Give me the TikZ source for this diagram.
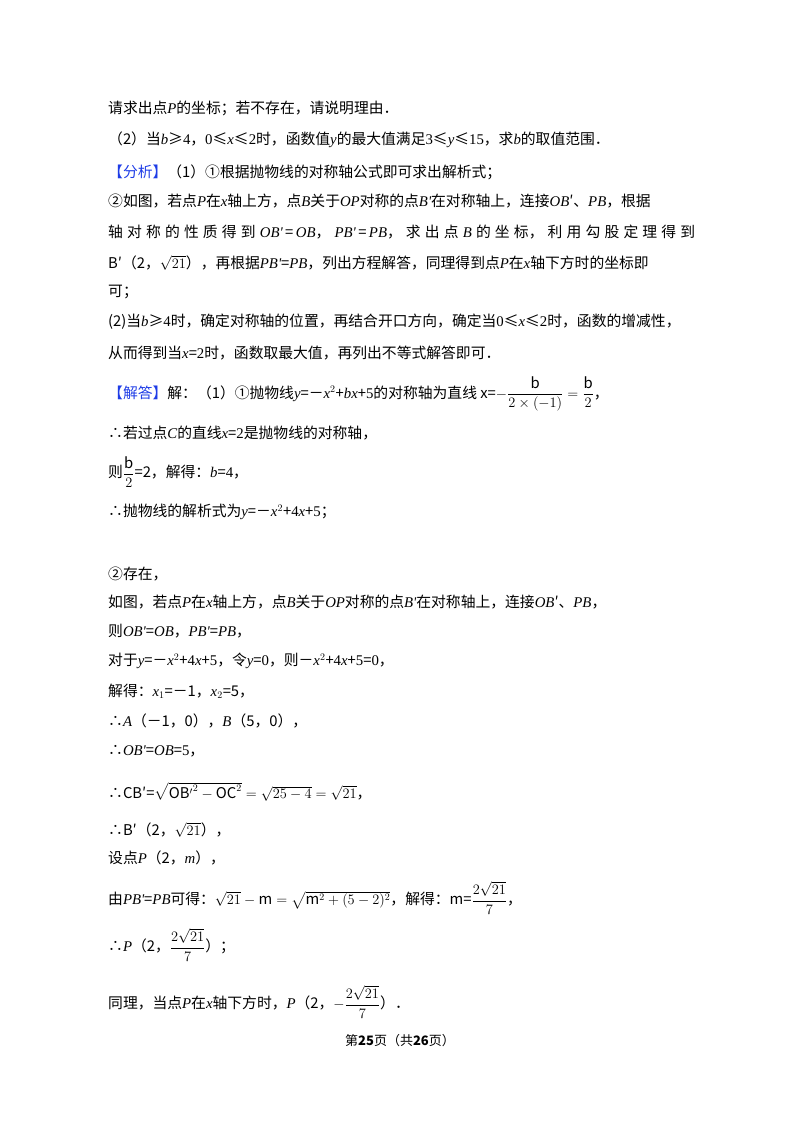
\documentclass[tikz,border=0pt]{standalone}
\usepackage{amsmath}
\usepackage{fontspec}
\setmainfont{Noto Sans CJK SC}
\newfontfamily\tnr{Liberation Serif}
\newcommand\mi[1]{{\tnr\itshape #1}}
\newcommand\nr[1]{{\tnr #1}}
\definecolor{tagblue}{RGB}{30,60,230}
\begin{document}
\begin{tikzpicture}[x=1pt,y=-1pt,
  ln/.style={anchor=west,inner sep=0pt,font=\fontsize{14.8}{17}\selectfont},
  tag/.style={text=tagblue}]
\useasboundingbox (0,0) rectangle (800,1132);
\node[ln] (l1) at (108,108) {请求出点\mi{P}的坐标；若不存在，请说明理由．};
\node[ln] (l2) at (108,140) {（2）当\mi{b}≥\nr{4}，\nr{0}≤\mi{x}≤\nr{2}时，函数值\mi{y}的最大值满足\nr{3}≤\mi{y}≤\nr{15}，求\mi{b}的取值范围．};
\node[ln] (l3) at (108,172) {\textcolor{tagblue}{【分析】}（1）①根据抛物线的对称轴公式即可求出解析式；};
\node[ln] (l4) at (108,201) {\makebox[587pt][s]{②如图，若点\mi{P}在\mi{x}轴上方，点\mi{B}关于\mi{OP}对称的点\mi{B'}在对称轴上，连接\mi{OB}′、\mi{PB}，根据}};
\node[ln] (l5) at (108,232) {\makebox[587pt][l]{轴\hfill 对\hfill 称\hfill 的\hfill 性\hfill 质\hfill 得\hfill 到\hfill \mi{OB'}\,=\,\mi{OB}，\hfill \mi{PB'}\,=\,\mi{PB}，\hfill 求\hfill 出\hfill 点\hfill \mi{B}\hfill 的\hfill 坐\hfill 标，\hfill 利\hfill 用\hfill 勾\hfill 股\hfill 定\hfill 理\hfill 得\hfill 到}};
\node[ln] (l6) at (108,263) {\makebox[587pt][s]{B′（2，$\sqrt{21}$），再根据\mi{PB'}=\mi{PB}，列出方程解答，同理得到点\mi{P}在\mi{x}轴下方时的坐标即}};
\node[ln] (l7) at (108,292) {可；};
\node[ln] (l8) at (108,322) {(2)当\mi{b}≥\nr{4}时，确定对称轴的位置，再结合开口方向，确定当\nr{0}≤\mi{x}≤\nr{2}时，函数的增减性，};
\node[ln] (l9) at (108,353) {从而得到当\mi{x}=\nr{2}时，函数取最大值，再列出不等式解答即可．};
\node[ln] (l10) at (108,394) {\textcolor{tagblue}{【解答】}解：（1）①抛物线\mi{y}=－\mi{x}$^2$+\mi{bx}+\nr{5}的对称轴为直线 x=$-\dfrac{\mathrm{b}}{2\times(-1)}=\dfrac{\mathrm{b}}{2}$，};
\node[ln] (l11) at (108,433) {∴若过点\mi{C}的直线\mi{x}=\nr{2}是抛物线的对称轴，};
\node[ln] (l12) at (108,472) {则$\dfrac{\mathrm{b}}{2}$=2，解得：\mi{b}=\nr{4}，};
\node[ln] (l13) at (108,512) {∴抛物线的解析式为\mi{y}=－\mi{x}$^2$+\nr{4}\mi{x}+\nr{5}；};
\node[ln] (l14) at (108,574) {②存在，};
\node[ln] (l15) at (108,602) {如图，若点\mi{P}在\mi{x}轴上方，点\mi{B}关于\mi{OP}对称的点\mi{B'}在对称轴上，连接\mi{OB}′、\mi{PB}，};
\node[ln] (l16) at (108,631) {则\mi{OB'}=\mi{OB}，\mi{PB'}=\mi{PB}，};
\node[ln] (l17) at (108,661) {对于\mi{y}=－\mi{x}$^2$+\nr{4}\mi{x}+\nr{5}，令\mi{y}=\nr{0}，则－\mi{x}$^2$+\nr{4}\mi{x}+\nr{5}=\nr{0}，};
\node[ln] (l18) at (108,691) {解得：\mi{x}$_1$=－1，\mi{x}$_2$=5，};
\node[ln] (l19) at (108,721) {∴\mi{A}（－1，0），\mi{B}（5，0），};
\node[ln] (l20) at (108,751) {∴\mi{OB'}=\mi{OB}=\nr{5}，};
\node[ln] (l21) at (108,792) {∴CB′=$\sqrt{\mathrm{OB'}^{2}-\mathrm{OC}^{2}}=\sqrt{25-4}=\sqrt{21}$，};
\node[ln] (l22) at (108,830) {∴B′（2，$\sqrt{21}$），};
\node[ln] (l23) at (108,858) {设点\mi{P}（2，\mi{m}），};
\node[ln] (l24) at (108,898) {由\mi{PB'}=\mi{PB}可得：$\sqrt{21}-\mathrm{m}=\sqrt{\mathrm{m}^2+(5-2)^2}$，解得：m=$\dfrac{2\sqrt{21}}{7}$，};
\node[ln] (l25) at (108,945) {∴\mi{P}（2，$\dfrac{2\sqrt{21}}{7}$）；};
\node[ln] (l26) at (108,1002) {同理，当点\mi{P}在\mi{x}轴下方时，\mi{P}（2，$-\dfrac{2\sqrt{21}}{7}$）．};
\node[anchor=center,inner sep=0pt,font=\fontsize{13}{15}\selectfont] (pg) at (400,1041) {第\textbf{25}页（共\textbf{26}页）};
\end{tikzpicture}
\end{document}
